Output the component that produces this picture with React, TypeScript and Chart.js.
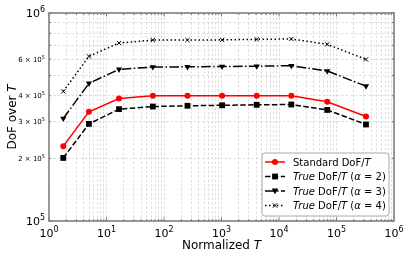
import React, { useEffect, useRef } from "react";
import { Chart, registerables } from "chart.js";

Chart.register(...registerables);

const xValues = [1.77, 4.95, 16.5, 64, 256, 1024, 4096, 16384, 69000, 326000];
const standardDoF = [2.29e5, 3.35e5, 3.88e5, 4.0e5, 4.0e5, 4.0e5, 4.0e5, 4.0e5, 3.74e5, 3.18e5];
const trueAlpha2 = [2.01e5, 2.93e5, 3.45e5, 3.55e5, 3.58e5, 3.6e5, 3.62e5, 3.63e5, 3.42e5, 2.91e5];
const trueAlpha3 = [3.11e5, 4.59e5, 5.36e5, 5.5e5, 5.51e5, 5.53e5, 5.55e5, 5.58e5, 5.26e5, 4.45e5];
const trueAlpha4 = [4.2e5, 6.19e5, 7.17e5, 7.41e5, 7.41e5, 7.43e5, 7.47e5, 7.5e5, 7.07e5, 5.98e5];

const xExponents = [0, 1, 2, 3, 4, 5, 6];
const yMajorExponents = [5, 6];
const yMinorMultipliers = [2, 3, 4, 6];

const FONT = "'DejaVu Sans', sans-serif";

type Seg = { t: string; it?: boolean; size: number; dy?: number };

function segWidth(ctx: CanvasRenderingContext2D, segs: Seg[]) {
  let w = 0;
  for (const s of segs) {
    ctx.font = `${s.it ? "oblique " : ""}${s.size}px ${FONT}`;
    w += ctx.measureText(s.t).width;
  }
  return w;
}

function drawSegs(ctx: CanvasRenderingContext2D, segs: Seg[], x: number, y: number, align: "left" | "center" | "right") {
  const w = segWidth(ctx, segs);
  let cx = align === "left" ? x : align === "center" ? x - w / 2 : x - w;
  ctx.textAlign = "left";
  ctx.textBaseline = "alphabetic";
  for (const s of segs) {
    ctx.font = `${s.it ? "oblique " : ""}${s.size}px ${FONT}`;
    ctx.fillText(s.t, cx, y + (s.dy || 0));
    cx += ctx.measureText(s.t).width;
  }
}

function drawMarker(ctx: CanvasRenderingContext2D, kind: string, x: number, y: number, color: string) {
  ctx.save();
  ctx.fillStyle = color;
  ctx.strokeStyle = color;
  ctx.setLineDash([]);
  ctx.beginPath();
  if (kind === "circle") {
    ctx.arc(x, y, 3, 0, Math.PI * 2);
    ctx.fill();
  } else if (kind === "rect") {
    ctx.fillRect(x - 2.9, y - 2.9, 5.8, 5.8);
  } else if (kind === "tri") {
    ctx.moveTo(x - 3.3, y - 2.4);
    ctx.lineTo(x + 3.3, y - 2.4);
    ctx.lineTo(x, y + 3.3);
    ctx.closePath();
    ctx.fill();
  } else {
    ctx.lineWidth = 1;
    ctx.moveTo(x - 2.2, y - 2.2);
    ctx.lineTo(x + 2.2, y + 2.2);
    ctx.moveTo(x + 2.2, y - 2.2);
    ctx.lineTo(x - 2.2, y + 2.2);
    ctx.stroke();
  }
  ctx.restore();
}

const DASH2 = [5.5, 2.4];
const DASH3 = [9.6, 2.4, 1.5, 2.4];
const DASH4 = [1.5, 2.5];

const decorPlugin = {
  id: "decor",
  afterDraw(chart: any) {
    const ctx: CanvasRenderingContext2D = chart.ctx;
    const { left, right, top, bottom } = chart.chartArea;
    const xs = chart.scales.x;
    const ys = chart.scales.y;
    ctx.save();

    // tick marks (inward)
    ctx.strokeStyle = "#555";
    ctx.lineWidth = 0.8;
    ctx.setLineDash([]);
    for (let e = 0; e < 6; e++) {
      for (let m = 1; m < 10; m++) {
        const v = m * Math.pow(10, e);
        const px = xs.getPixelForValue(v);
        const len = m === 1 ? 3.5 : 2;
        ctx.beginPath();
        ctx.moveTo(px, bottom);
        ctx.lineTo(px, bottom - len);
        ctx.moveTo(px, top);
        ctx.lineTo(px, top + len);
        ctx.stroke();
      }
    }
    for (let m = 1; m <= 10; m++) {
      const v = m * 1e5;
      const py = ys.getPixelForValue(v);
      const len = m === 1 || m === 10 ? 3.5 : 2;
      ctx.beginPath();
      ctx.moveTo(left, py);
      ctx.lineTo(left + len, py);
      ctx.moveTo(right, py);
      ctx.lineTo(right - len, py);
      ctx.stroke();
    }

    // frame
    ctx.strokeStyle = "#808080";
    ctx.lineWidth = 1.6;
    ctx.strokeRect(left, top, right - left, bottom - top);

    // x tick labels
    ctx.fillStyle = "#000";
    for (const e of xExponents) {
      const px = xs.getPixelForValue(Math.pow(10, e));
      drawSegs(ctx, [
        { t: "10", size: 11 },
        { t: String(e), size: 8, dy: -5 },
      ], px, bottom + 16, "center");
    }
    // y tick labels
    for (const e of yMajorExponents) {
      const py = ys.getPixelForValue(Math.pow(10, e));
      drawSegs(ctx, [
        { t: "10", size: 11 },
        { t: String(e), size: 8, dy: -5 },
      ], left - 4, py + 4, "right");
    }
    for (const m of yMinorMultipliers) {
      const py = ys.getPixelForValue(m * 1e5);
      drawSegs(ctx, [
        { t: `${m} × 10`, size: 7 },
        { t: "5", size: 5, dy: -3 },
      ], left - 4, py + 2.5, "right");
    }

    // axis titles
    drawSegs(ctx, [
      { t: "Normalized ", size: 12 },
      { t: "T", it: true, size: 12 },
    ], (left + right) / 2, 249, "center");
    ctx.save();
    ctx.translate(16, (top + bottom) / 2);
    ctx.rotate(-Math.PI / 2);
    drawSegs(ctx, [
      { t: "DoF over ", size: 12 },
      { t: "T", it: true, size: 12 },
    ], 0, 0, "center");
    ctx.restore();

    // legend
    const lx = 262, ly = 153, lw = 127, lh = 63;
    ctx.beginPath();
    const r = 3;
    ctx.moveTo(lx + r, ly);
    ctx.arcTo(lx + lw, ly, lx + lw, ly + lh, r);
    ctx.arcTo(lx + lw, ly + lh, lx, ly + lh, r);
    ctx.arcTo(lx, ly + lh, lx, ly, r);
    ctx.arcTo(lx, ly, lx + lw, ly, r);
    ctx.closePath();
    ctx.fillStyle = "rgba(255,255,255,0.9)";
    ctx.fill();
    ctx.strokeStyle = "#aaa";
    ctx.lineWidth = 1;
    ctx.stroke();

    const rows = [
      { color: "#ff0000", dash: [] as number[], marker: "circle", alpha: "" },
      { color: "#000", dash: DASH2, marker: "rect", alpha: "2" },
      { color: "#000", dash: DASH3, marker: "tri", alpha: "3" },
      { color: "#000", dash: DASH4, marker: "x", alpha: "4" },
    ];
    const rowY = [162, 176.5, 191, 205.5];
    rows.forEach((row, i) => {
      const y = rowY[i];
      ctx.strokeStyle = row.color;
      ctx.lineWidth = 1.5;
      ctx.setLineDash(row.dash);
      ctx.beginPath();
      ctx.moveTo(265, y);
      ctx.lineTo(285, y);
      ctx.stroke();
      ctx.setLineDash([]);
      drawMarker(ctx, row.marker, 275, y, row.color);
      ctx.fillStyle = "#000";
      const segs: Seg[] = row.alpha
        ? [
            { t: "True", it: true, size: 10 },
            { t: " DoF/", size: 10 },
            { t: "T", it: true, size: 10 },
            { t: " (", size: 10 },
            { t: "α", it: true, size: 10 },
            { t: " = " + row.alpha + ")", size: 10 },
          ]
        : [
            { t: "Standard DoF/", size: 10 },
            { t: "T", it: true, size: 10 },
          ];
      drawSegs(ctx, segs, 293, y + 3.6, "left");
    });

    ctx.restore();
  },
};

function makeTicks(lo: number, hi: number) {
  const out: { value: number }[] = [];
  for (let e = lo; e < hi; e++) {
    for (let m = 1; m < 10; m++) out.push({ value: m * Math.pow(10, e) });
  }
  out.push({ value: Math.pow(10, hi) });
  return out;
}

export default function App() {
  const ref = useRef<HTMLCanvasElement>(null);
  useEffect(() => {
    document.body.style.margin = "0";
    const pts = (ys: number[]) => xValues.map((x, i) => ({ x, y: ys[i] }));
    const chart = new Chart(ref.current!, {
      type: "line",
      data: {
        datasets: [
          {
            label: "Standard DoF/T",
            data: pts(standardDoF),
            borderColor: "#ff0000",
            backgroundColor: "#ff0000",
            borderWidth: 1.5,
            pointStyle: "circle",
            pointRadius: 3,
            pointBorderWidth: 0,
          },
          {
            label: "True DoF/T (α = 2)",
            data: pts(trueAlpha2),
            borderColor: "#000",
            backgroundColor: "#000",
            borderWidth: 1.5,
            borderDash: DASH2,
            pointStyle: "rect",
            pointRadius: 4.1,
            pointBorderWidth: 0,
          },
          {
            label: "True DoF/T (α = 3)",
            data: pts(trueAlpha3),
            borderColor: "#000",
            backgroundColor: "#000",
            borderWidth: 1.5,
            borderDash: DASH3,
            pointStyle: "triangle",
            pointRotation: 180,
            pointRadius: 3.6,
            pointBorderWidth: 0,
          },
          {
            label: "True DoF/T (α = 4)",
            data: pts(trueAlpha4),
            borderColor: "#000",
            backgroundColor: "#000",
            borderWidth: 1.5,
            borderDash: DASH4,
            pointStyle: "crossRot",
            pointRadius: 3,
            pointBorderWidth: 1,
          },
        ],
      },
      options: {
        responsive: false,
        animation: false,
        layout: { padding: { left: 49, right: 21, top: 13, bottom: 39 } },
        plugins: { legend: { display: false }, tooltip: { enabled: false } },
        scales: {
          x: {
            type: "logarithmic",
            min: 1,
            max: 1e6,
            afterBuildTicks: (s: any) => {
              s.ticks = makeTicks(0, 6);
            },
            ticks: { display: false },
            grid: { color: "#d4d4d4", lineWidth: 0.8, drawTicks: false },
            border: { display: false, dash: [2.5, 2] },
          },
          y: {
            type: "logarithmic",
            min: 1e5,
            max: 1e6,
            afterBuildTicks: (s: any) => {
              s.ticks = makeTicks(5, 6);
            },
            ticks: { display: false },
            grid: { color: "#d4d4d4", lineWidth: 0.8, drawTicks: false },
            border: { display: false, dash: [2.5, 2] },
          },
        },
      },
      plugins: [decorPlugin],
    } as any);
    return () => chart.destroy();
  }, []);
  return (
    <div style={{ width: 415, height: 260 }}>
      <canvas ref={ref} width={415} height={260} />
    </div>
  );
}
